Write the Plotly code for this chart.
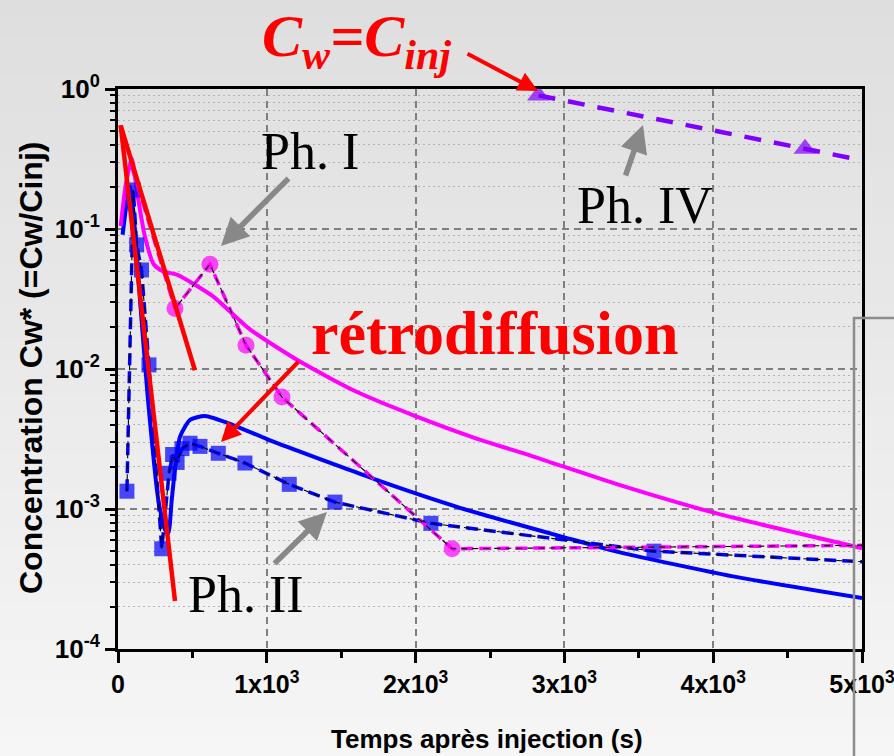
import plotly.graph_objects as go

# ---------------- data ----------------
# measured, blue squares
blue_data_t = [60, 103, 125, 158, 208, 294, 343, 367, 397, 430, 484, 551, 674, 853,
               1151, 1458, 2103, 3602, 5000]
blue_data_c = [1.34e-3, 0.19, 0.077, 0.051, 0.0107, 5.2e-4, 1.8e-3, 2.45e-3, 2.15e-3,
               2.7e-3, 2.95e-3, 2.8e-3, 2.5e-3, 2.13e-3, 1.5e-3, 1.12e-3, 7.9e-4,
               5.0e-4, 4.2e-4]

# measured, magenta circles
mag_data_t = [92, 383, 618, 860, 1102, 2245, 5000]
mag_data_c = [0.28, 0.027, 0.056, 0.0148, 0.0063, 5.2e-4, 5.5e-4]

# model, blue solid
blue_model_t = [31, 60, 80, 105, 148, 200, 271, 316, 338, 361, 385, 417, 484, 585, 773,
                1000, 1223, 1500, 1761, 2298, 3017, 3374, 4133, 5000]
blue_model_c = [0.091, 0.158, 0.2, 0.126, 0.0311, 0.0063, 1.16e-3, 7.1e-4, 6.7e-4,
                1.16e-3, 2.0e-3, 3.29e-3, 4.33e-3, 4.61e-3, 3.98e-3, 3.16e-3, 2.57e-3,
                2.0e-3, 1.58e-3, 1.02e-3, 6.2e-4, 4.9e-4, 3.3e-4, 2.31e-4]

# model, magenta solid
mag_model_t = [18, 50, 92, 130, 180, 240, 300, 400, 500, 641, 887, 1223, 1600, 2007,
               2400, 2791, 3374, 4023, 5000]
mag_model_c = [0.105, 0.2, 0.32, 0.178, 0.089, 0.056, 0.05, 0.047, 0.041, 0.0329,
               0.0192, 0.0113, 6.9e-3, 4.57e-3, 3.21e-3, 2.37e-3, 1.48e-3, 9.3e-4,
               5.25e-4]

# Ph. IV, violet triangles
ph4_t = [2826, 4617, 5000]
ph4_c = [0.9, 0.375, 0.31]

# Ph. I slopes (red)
red1_t = [18, 517]
red1_c = [0.55, 0.0098]
red2_t = [18, 383]
red2_c = [0.55, 2.2e-4]

x_tickvals = [0, 1000, 2000, 3000, 4000, 5000]
x_ticktext = ["0", "1x10<sup>3</sup>", "2x10<sup>3</sup>", "3x10<sup>3</sup>",
              "4x10<sup>3</sup>", "5x10<sup>3</sup>"]
y_tickvals = [1e-4, 1e-3, 1e-2, 1e-1, 1]
y_ticktext = ["10<sup>-4</sup>", "10<sup>-3</sup>", "10<sup>-2</sup>",
              "10<sup>-1</sup>", "10<sup>0</sup>"]

# ---------------- figure ----------------
W, H = 894, 756
L, R, T, B = 118, 32, 89, 107
PW, PH = W - L - R, H - T - B


def xp(p):
    return (p - L) / PW


def yp(p):
    return (H - B - p) / PH


fig = go.Figure()

fig.add_trace(go.Scatter(x=blue_model_t, y=blue_model_c, mode="lines",
                         line=dict(color="#0000ff", width=4, shape="spline", smoothing=0.6)))
fig.add_trace(go.Scatter(x=mag_model_t, y=mag_model_c, mode="lines",
                         line=dict(color="#ff00ff", width=4, shape="spline", smoothing=0.6)))

blue_sizes = [15] * (len(blue_data_t) - 1) + [0]
fig.add_trace(go.Scatter(x=blue_data_t, y=blue_data_c, mode="lines+markers",
                         line=dict(color="#0000ff", width=3.5, dash="12px,6px"),
                         marker=dict(symbol="square", size=blue_sizes, color="#0000ff",
                                     line=dict(width=0))))
mag_sizes = [0] + [17] * (len(mag_data_t) - 2) + [0]
fig.add_trace(go.Scatter(x=mag_data_t, y=mag_data_c, mode="lines+markers",
                         line=dict(color="#ff00ff", width=3.5, dash="12px,6px"),
                         marker=dict(symbol="circle", size=mag_sizes, color="#ff00ff",
                                     line=dict(width=0))))
for tt, cc in [(blue_data_t, blue_data_c), (mag_data_t, mag_data_c)]:
    fig.add_trace(go.Scatter(x=tt, y=cc, mode="lines",
                             line=dict(color="black", width=1.1, dash="6px,5px")))

ph4_sizes = [20] * (len(ph4_t) - 1) + [0]
fig.add_trace(go.Scatter(x=ph4_t, y=ph4_c, mode="lines+markers",
                         line=dict(color="#8000ff", width=4.5, dash="17px,13px"),
                         marker=dict(symbol="triangle-up", size=ph4_sizes, color="#8000ff",
                                     line=dict(width=0))))

for tt, cc in [(red1_t, red1_c), (red2_t, red2_c)]:
    fig.add_trace(go.Scatter(x=tt, y=cc, mode="lines",
                             line=dict(color="#ff0000", width=4.5)))

# background gradient
shapes = []
N = 40
for i in range(N):
    y0p = i * H / N
    y1p = (i + 1) * H / N
    f = (i + 0.5) / N
    g = int(round(222 + (246 - 222) * f))
    shapes.append(dict(type="rect", xref="paper", yref="paper", layer="below",
                       x0=xp(-2), x1=xp(W + 2), y0=yp(y1p + 0.5), y1=yp(y0p - 0.5),
                       fillcolor=f"rgb({g},{g},{g})", line=dict(width=0)))
# gray slide frame at right
shapes.append(dict(type="path", xref="paper", yref="paper",
                   path=f"M {xp(854)},{yp(H + 5)} L {xp(854)},{yp(318)} L {xp(W + 5)},{yp(318)}",
                   line=dict(color="#8c8c8c", width=2.5)))

serif = "Liberation Serif"
sans = "Liberation Sans"


def label(text, cx, cy, font, angle=0):
    return dict(text=text, xref="paper", yref="paper", x=xp(cx), y=yp(cy),
                xanchor="center", yanchor="middle", showarrow=False,
                textangle=angle, font=font)


ann = []
ann.append(label("Temps après injection (s)", 487, 739,
                 dict(family=sans, size=26, color="black", weight="bold")))
ann.append(label("Concentration Cw* (=Cw/Cinj)", 31, 368,
                 dict(family=sans, size=32, color="black", weight="bold"), -90))
ann.append(label("<i>C<sub>w</sub>=C<sub>inj</sub></i>", 356, 40,
                 dict(family=serif, size=60, color="#ff0000", weight="bold")))
ann.append(label("rétrodiffusion", 494, 333,
                 dict(family=serif, size=62, color="#ff0000", weight="bold")))
for txt, cx, cy in [("Ph. I", 310, 151), ("Ph. IV", 645, 205), ("Ph. II", 246, 594)]:
    ann.append(label(txt, cx, cy, dict(family=serif, size=52, color="black")))

# arrows (head, tail in pixels)
for (hx, hy, tx, ty, col, w) in [(538, 91, 466, 53, "#ff0000", 4),
                                 (221, 442, 300, 360, "#ff0000", 4),
                                 (221, 246, 290, 177, "#888888", 5.5),
                                 (643, 125, 625, 177, "#888888", 5.5),
                                 (327, 512, 273, 565, "#888888", 5.5)]:
    ann.append(dict(text="", xref="paper", yref="paper", x=xp(hx), y=yp(hy),
                    ax=tx - hx, ay=ty - hy, showarrow=True, arrowhead=2,
                    arrowsize=1.0, arrowwidth=w, arrowcolor=col))

minor_y = [k * 10 ** e for e in range(-4, 0) for k in range(2, 10)]

fig.update_layout(
    width=W, height=H, margin=dict(l=L, r=R, t=T, b=B, autoexpand=False),
    paper_bgcolor="#e8e8e8", plot_bgcolor="rgba(0,0,0,0)",
    showlegend=False, shapes=shapes, annotations=ann,
    xaxis=dict(range=[0, 5000], tickmode="array", tickvals=x_tickvals, ticktext=x_ticktext,
               ticks="outside", ticklen=11, tickwidth=2.5, tickcolor="black",
               showline=True, linecolor="black", linewidth=3, mirror=True,
               showgrid=True, gridcolor="#7f7f7f", gridwidth=1.5, griddash="7px,5px",
               zeroline=False, ticklabeloverflow="allow", automargin=False,
               tickfont=dict(family=sans, size=25, color="black", weight="bold"),
               minor=dict(tickmode="linear", tick0=0, dtick=500, ticks="outside", ticklen=6,
                          tickwidth=2.5, tickcolor="black", showgrid=False)),
    yaxis=dict(type="log", range=[-4, 0], tickmode="array", tickvals=y_tickvals,
               ticktext=y_ticktext, ticks="outside", ticklen=10, tickwidth=2.5,
               tickcolor="black", showline=True, linecolor="black", linewidth=3,
               mirror=True, showgrid=True, gridcolor="#7f7f7f", gridwidth=1.5,
               griddash="7px,5px", zeroline=False, ticklabeloverflow="allow",
               automargin=False,
               tickfont=dict(family=sans, size=26, color="black", weight="bold"),
               minor=dict(tickmode="array", tickvals=minor_y, ticks="outside", ticklen=5,
                          tickwidth=2, tickcolor="black", showgrid=True,
                          gridcolor="#b4b4b4", gridwidth=1.2, griddash="2px,3px")),
)

fig.write_html("out.html", config={"displayModeBar": False},
               post_script="document.body.style.margin='0';document.body.style.overflow='hidden';")
